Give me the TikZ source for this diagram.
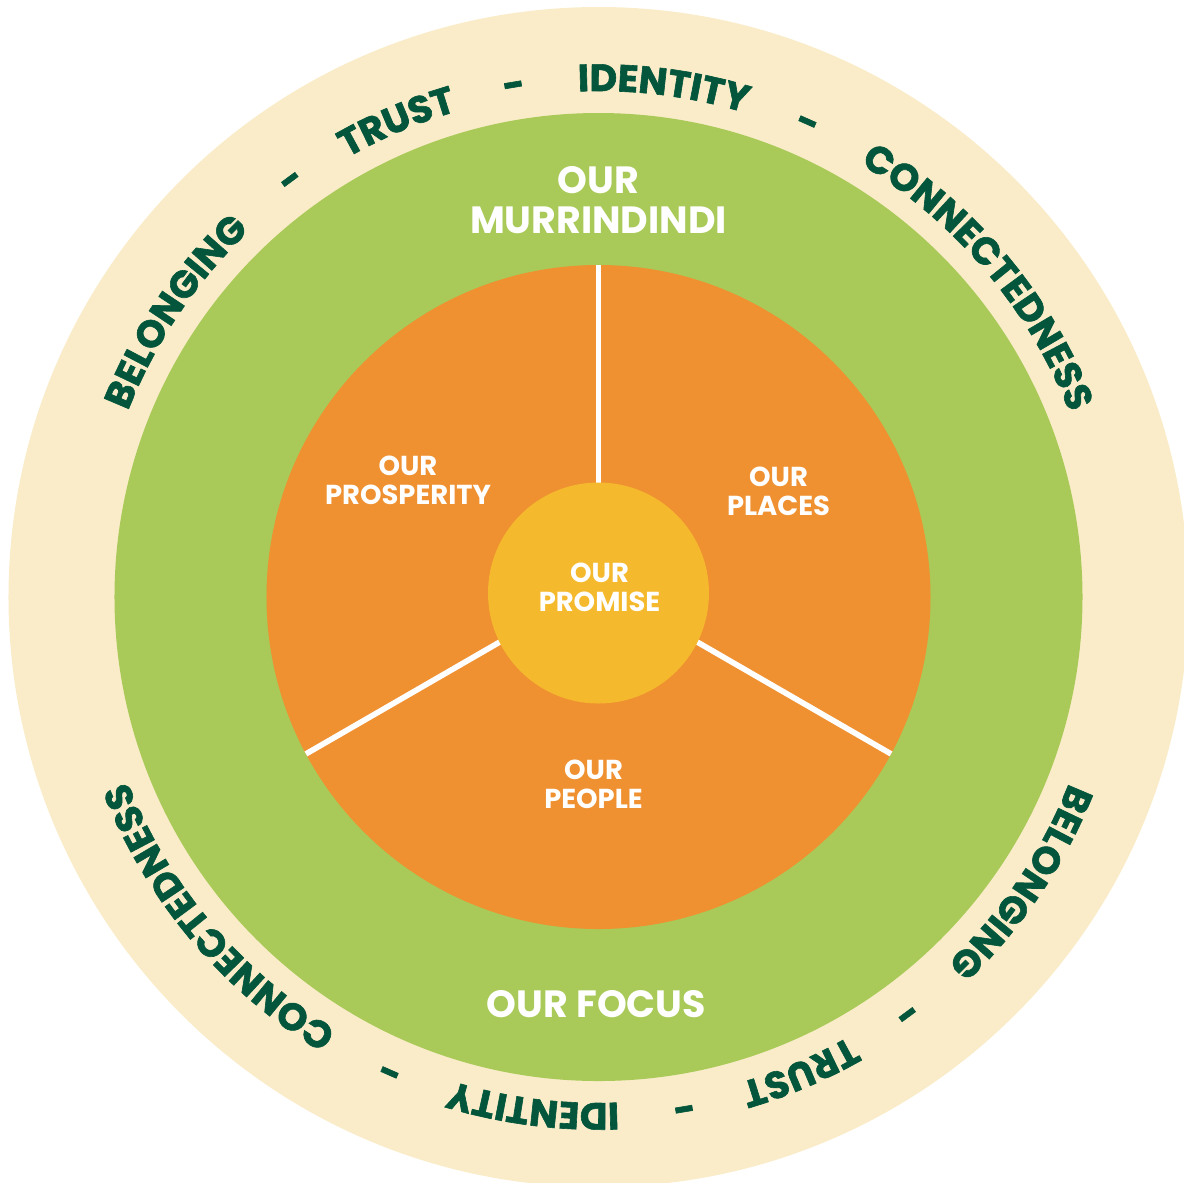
\documentclass[tikz,border=0pt]{standalone}
\usepackage{fontspec}
\setmainfont{Poppins}
\newfontfamily\ringface{Poppins}[BoldFeatures={FakeBold=1.6}]
\usetikzlibrary{decorations.text}

\definecolor{cream}{HTML}{FAECC9}
\definecolor{leaf}{HTML}{A9CA58}
\definecolor{amber}{HTML}{EF9031}
\definecolor{sun}{HTML}{F5B92D}
\definecolor{ringink}{HTML}{03563B}
\newcommand\ringfont{\ringface\bfseries\fontsize{10.8}{12}\selectfont\color{ringink}}

\begin{document}
\begin{tikzpicture}[
        lbig/.style={text=white, align=center, font=\bfseries\fontsize{10.8}{11.4}\selectfont},
        lsmall/.style={text=white, align=center, font=\bfseries\fontsize{7.8}{8.1}\selectfont},
        spoke/.style={draw=white, line width=1.6pt},
        ringword/.style={decorate, decoration={text along path, text align=center,
            text/.expanded={|\noexpand\ringfont|#1}}}
    ]
        \useasboundingbox (-5.985,-5.85) rectangle (5.855,5.97);

        % rings
        \fill[cream] (0,0) circle (5.90);
        \fill[leaf]  (0,0) circle (4.84);
        \fill[amber] (0,0) circle (3.32);

        % spokes between the three parts
        \coordinate (hub) at (0,0.12);
        \path (hub) ++(90:3.20)  coordinate (cutA);
        \path (hub) ++(210:3.378) coordinate (cutB);
        \path (hub) ++(330:3.378) coordinate (cutC);
        \draw[spoke] (hub) -- (cutA);
        \draw[spoke] (hub) -- (cutB);
        \draw[spoke] (hub) -- (cutC);

        \fill[sun] (0,0.04) circle (1.105);

        \node[lbig]   (murr)    at (0,3.965)      {OUR\\MURRINDINDI};
        \node[lbig]   (focus)   at (-0.02,-4.075) {OUR FOCUS};
        \node[lsmall] (prosp)   at (-1.905,1.165) {OUR\\PROSPERITY};
        \node[lsmall] (places)  at (1.80,1.055)   {OUR\\PLACES};
        \node[lsmall] (promise) at (0.01,0.095)   {OUR\\PROMISE};
        \node[lsmall] (people)  at (-0.05,-1.875) {OUR\\PEOPLE};

        % words round the ring, twice
        \foreach \turn in {0,180}
            \foreach \word/\ang in {BELONGING/146, -/126.4, TRUST/113, -/99.4,
                                    IDENTITY/82.7, -/66.2, CONNECTEDNESS/40.1}
                \path[ringword=\word] (\ang+\turn+25:5.06)
                    arc[start angle=\ang+\turn+25, end angle=\ang+\turn-25, radius=5.06];
    \end{tikzpicture}
\end{document}
